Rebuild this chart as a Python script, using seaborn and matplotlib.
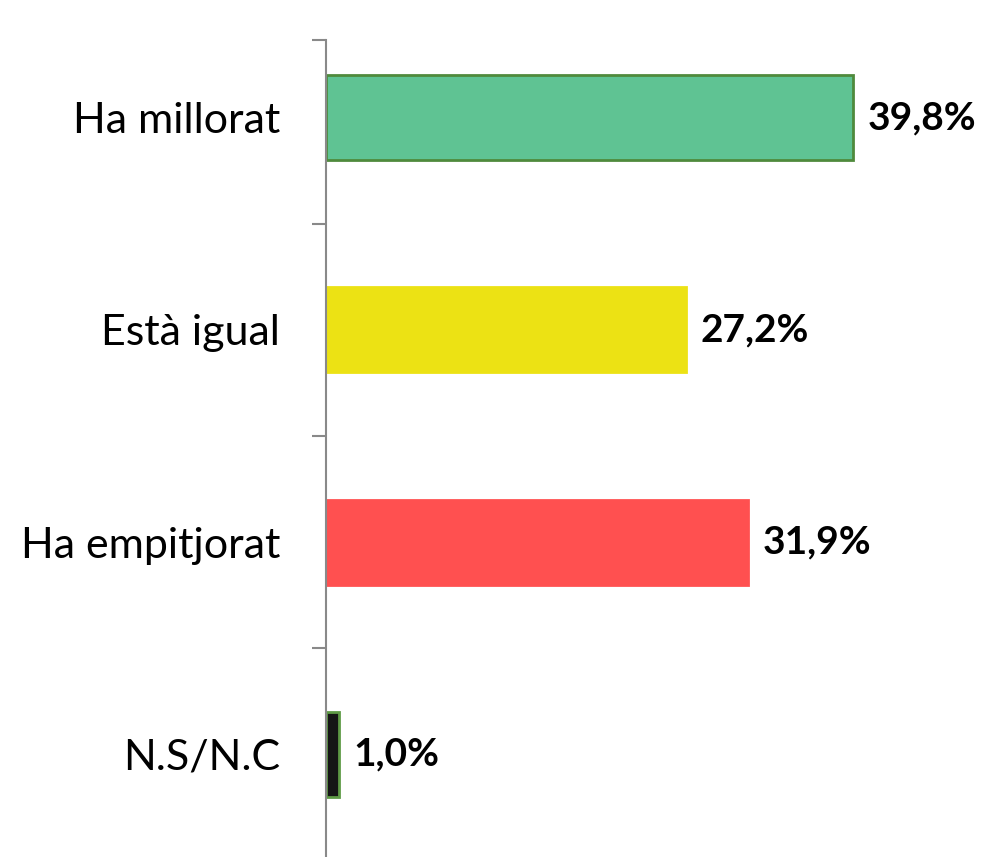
import numpy as np
import pandas as pd
import matplotlib.pyplot as plt
import seaborn as sns

# Chart data
categories = ["Ha millorat", "Està igual", "Ha empitjorat", "N.S/N.C"]
values = [39.8, 27.2, 31.9, 1.0]
value_labels = ["39,8%", "27,2%", "31,9%", "1,0%"]
bar_colors = ["#5FC393", "#ECE214", "#FF5050", "#151515"]
edge_colors = ["#4F8A3C", "#ECE214", "#FF5050", "#5E9A45"]

sns.set_theme(style="white")
plt.rcParams["font.family"] = ["Lato", "DejaVu Sans"]

df = pd.DataFrame({"cat": categories, "val": values})

fig = plt.figure(figsize=(9.93, 8.57), dpi=100)
ax = fig.add_axes([326 / 993, 0.0, (993 - 326) / 993, (857 - 40) / 857])

sns.barplot(data=df, y="cat", x="val", hue="cat", palette=bar_colors,
            orient="h", width=0.40, legend=False, ax=ax, saturation=1)

for patch, ec in zip(ax.patches, edge_colors):
    patch.set_edgecolor(ec)
    patch.set_linewidth(2)

for i, (v, lab) in enumerate(zip(values, value_labels)):
    ax.text(v + 1.1, i, lab, va="center", ha="left", fontsize=28,
            fontweight="bold", color="black")

ax.set_xlim(0, 50.4)
ax.set_ylim(3.483, -0.366)
ax.set_xlabel("")
ax.set_ylabel("")
ax.set_xticks([])

ax.tick_params(axis="y", which="major", length=0, pad=33, labelsize=31,
               labelcolor="black")
ax.set_yticks(np.arange(len(categories)))
ax.set_yticklabels(categories)
ax.set_yticks([-0.366, 0.5, 1.5, 2.5], minor=True)
ax.tick_params(axis="y", which="minor", length=10, width=1.5,
               color="#898989", direction="out", left=True)

for side in ["top", "right", "bottom"]:
    ax.spines[side].set_visible(False)
ax.spines["left"].set_color("#898989")
ax.spines["left"].set_linewidth(1.5)

ax.set_facecolor("none")
fig.patch.set_facecolor("white")

fig.savefig("out.png", dpi=100)
